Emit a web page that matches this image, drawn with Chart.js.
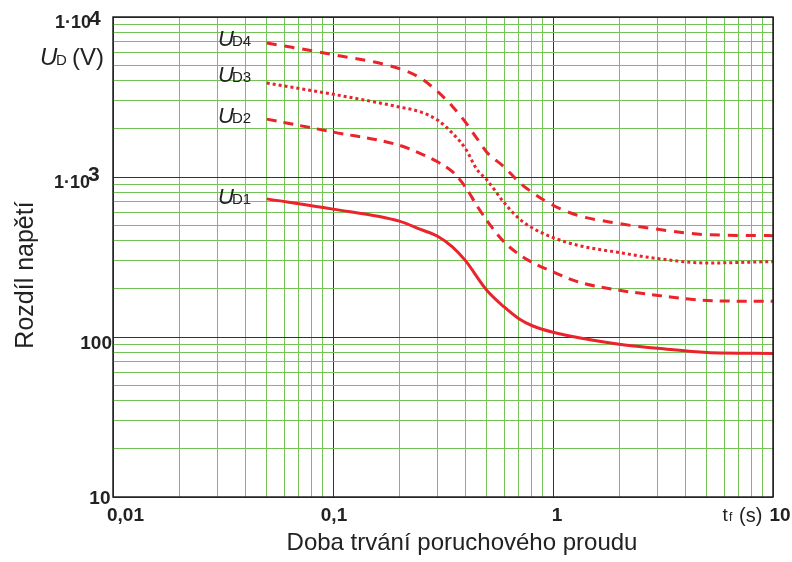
<!DOCTYPE html>
<html><head><meta charset="utf-8">
<script src="https://cdn.jsdelivr.net/npm/chart.js@4/dist/chart.umd.min.js"></script>
<style>html,body{margin:0;padding:0;background:#fff}canvas{display:block}</style>
</head><body>
<canvas id="c" width="792" height="562"></canvas>
<script>
// ---- data ----
const timeUD1 = [0.05, 0.1, 0.2, 0.25, 0.3, 0.35, 0.4, 0.5, 0.6, 0.7, 0.8, 1, 2, 3, 5, 10];
const valUD1  = [730, 630, 530, 470, 425, 365, 300, 196, 154, 130, 118, 107, 90, 85, 80, 79];

const timeUD2 = [0.05, 0.1, 0.2, 0.25, 0.3, 0.35, 0.4, 0.45, 0.5, 0.6, 0.7, 0.8, 1, 1.3, 2, 3, 5, 10];
const valUD2  = [2300, 1910, 1580, 1400, 1240, 1075, 866, 665, 536, 392, 329, 294, 255, 221, 196, 182, 169, 167];

const timeUD3 = [0.05, 0.1, 0.2, 0.25, 0.3, 0.35, 0.4, 0.45, 0.5, 0.6, 0.7, 0.8, 1, 1.3, 2, 3, 5, 10];
const valUD3  = [3870, 3290, 2740, 2550, 2260, 1870, 1505, 1120, 960, 690, 550, 483, 418, 374, 337, 309, 290, 296];

const timeUD4 = [0.05, 0.1, 0.2, 0.25, 0.3, 0.35, 0.4, 0.45, 0.5, 0.6, 0.7, 0.8, 1, 1.3, 2, 3, 5, 10];
const valUD4  = [6880, 5820, 4760, 4150, 3400, 2750, 2200, 1750, 1430, 1155, 931, 806, 666, 575, 512, 471, 436, 430];

const seriesNames = ['D1', 'D2', 'D3', 'D4'];

const xGridValues = [0.01,0.02,0.03,0.04,0.05,0.06,0.07,0.08,0.09,
                     0.1,0.2,0.3,0.4,0.5,0.6,0.7,0.8,0.9,
                     1,2,3,4,5,6,7,8,9,10];
const yGridValues = [10,20,30,40,50,60,70,80,90,
                     100,200,300,400,500,600,700,800,900,
                     1000,2000,3000,4000,5000,6000,7000,8000,9000,10000];

const xLabelValues = [0.01, 0.1, 1, 10];
const xLabelTexts  = ['0,01', '0,1', '1', '10'];

const xTitle = 'Doba trvání poruchového proudu';
const yTitle = 'Rozdíl napětí';

// ---- chart ----
const RED = 'rgb(234,36,42)';
const GREEN = 'rgb(116,194,88)';
const DARK = '#333';
const F = "'Liberation Sans', Arial, Helvetica, sans-serif";

function pts(t, v) { return t.map((x, i) => ({ x: x, y: v[i] })); }
function isDecade(v) { const l = Math.log10(v); return Math.abs(l - Math.round(l)) < 1e-6; }

const decorPlugin = {
  id: 'decor',
  beforeDraw(chart) {
    const c = chart.ctx;
    c.save(); c.fillStyle = '#fff'; c.fillRect(0, 0, chart.width, chart.height); c.restore();
  },
  afterDraw(chart) {
    const c = chart.ctx, a = chart.chartArea;
    const xs = chart.scales.x, ys = chart.scales.y;
    c.save();
    // frame
    c.strokeStyle = '#222'; c.lineWidth = 1.5;
    c.strokeRect(a.left, a.top, a.right - a.left, a.bottom - a.top);

    c.fillStyle = '#222';
    c.textBaseline = 'alphabetic';
    // y tick labels
    const bold = s => 'bold ' + s + 'px ' + F;
    const y4 = ys.getPixelForValue(10000), y3 = ys.getPixelForValue(1000);
    const y2 = ys.getPixelForValue(100), y1 = ys.getPixelForValue(10);
    c.textAlign = 'left';
    c.font = bold(18); c.fillText('1·10', 55, y4 + 11);
    c.font = bold(21); c.fillText('4', 89, y4 + 8);
    c.font = bold(18); c.fillText('1·10', 54, y3 + 10.5);
    c.font = bold(21); c.fillText('3', 88, y3 + 3.5);
    c.textAlign = 'right';
    c.font = bold(19); c.fillText('100', 112, y2 + 11.5);
    c.fillText('10', 110.5, y1 + 6.5);

    // x tick labels
    c.font = bold(19);
    const xOff = [{al:'left', dx:-6}, {al:'center', dx:1}, {al:'center', dx:4}, {al:'center', dx:7}];
    xLabelValues.forEach((v, i) => {
      c.textAlign = xOff[i].al;
      c.fillText(xLabelTexts[i], xs.getPixelForValue(v) + xOff[i].dx, 520.5);
    });

    // t_f (s)
    c.textAlign = 'left';
    c.font = '19px ' + F; c.fillText('t', 722.5, 520.5);
    c.font = '12px ' + F; c.fillText('f', 729, 521);
    c.font = '20px ' + F; c.fillText('(s)', 739, 522);

    // U_D (V)
    c.font = 'italic 24px ' + F; c.fillText('U', 40, 65);
    c.font = '15px ' + F; c.fillText('D', 56, 65);
    c.font = '24px ' + F; c.fillText('(V)', 72, 65);

    // series labels
    const labelBase = [204, 123, 82, 46];
    seriesNames.forEach((n, i) => {
      c.font = 'italic 22px ' + F; c.fillText('U', 218, labelBase[i]);
      c.font = '15px ' + F; c.fillText(n, 232, labelBase[i]);
    });

    // axis titles
    c.textAlign = 'center';
    c.font = '24px ' + F; c.fillText(xTitle, 462, 550);
    c.save();
    c.translate(33, 275); c.rotate(-Math.PI / 2);
    c.font = '25px ' + F; c.fillText(yTitle, 0, 0);
    c.restore();
    c.restore();
  }
};

const common = { borderColor: RED, borderWidth: 3, pointRadius: 0, fill: false,
                 cubicInterpolationMode: 'monotone', borderCapStyle: 'butt' };

new Chart(document.getElementById('c'), {
  type: 'line',
  data: {
    datasets: [
      Object.assign({ label: 'UD1', data: pts(timeUD1, valUD1) }, common),
      Object.assign({ label: 'UD2', data: pts(timeUD2, valUD2), borderDash: [10, 7] }, common),
      Object.assign({ label: 'UD3', data: pts(timeUD3, valUD3), borderDash: [3, 3] }, common),
      Object.assign({ label: 'UD4', data: pts(timeUD4, valUD4), borderDash: [10, 8] }, common)
    ]
  },
  options: {
    responsive: false, animation: false, devicePixelRatio: 1,
    layout: { padding: { left: 113, right: 19, top: 17, bottom: 65 } },
    plugins: { legend: { display: false }, tooltip: { enabled: false } },
    scales: {
      x: {
        type: 'logarithmic', min: 0.01, max: 10,
        afterBuildTicks: s => { s.ticks = xGridValues.map(v => ({ value: v })); },
        ticks: { display: false },
        border: { display: false },
        grid: { drawTicks: false, lineWidth: 1,
                color: ctx => (ctx.tick && isDecade(ctx.tick.value)) ? DARK : GREEN }
      },
      y: {
        type: 'logarithmic', min: 10, max: 10000,
        afterBuildTicks: s => { s.ticks = yGridValues.map(v => ({ value: v })); },
        ticks: { display: false },
        border: { display: false },
        grid: { drawTicks: false, lineWidth: 1,
                color: ctx => (ctx.tick && isDecade(ctx.tick.value)) ? DARK : GREEN }
      }
    }
  },
  plugins: [decorPlugin]
});
</script>
</body></html>
